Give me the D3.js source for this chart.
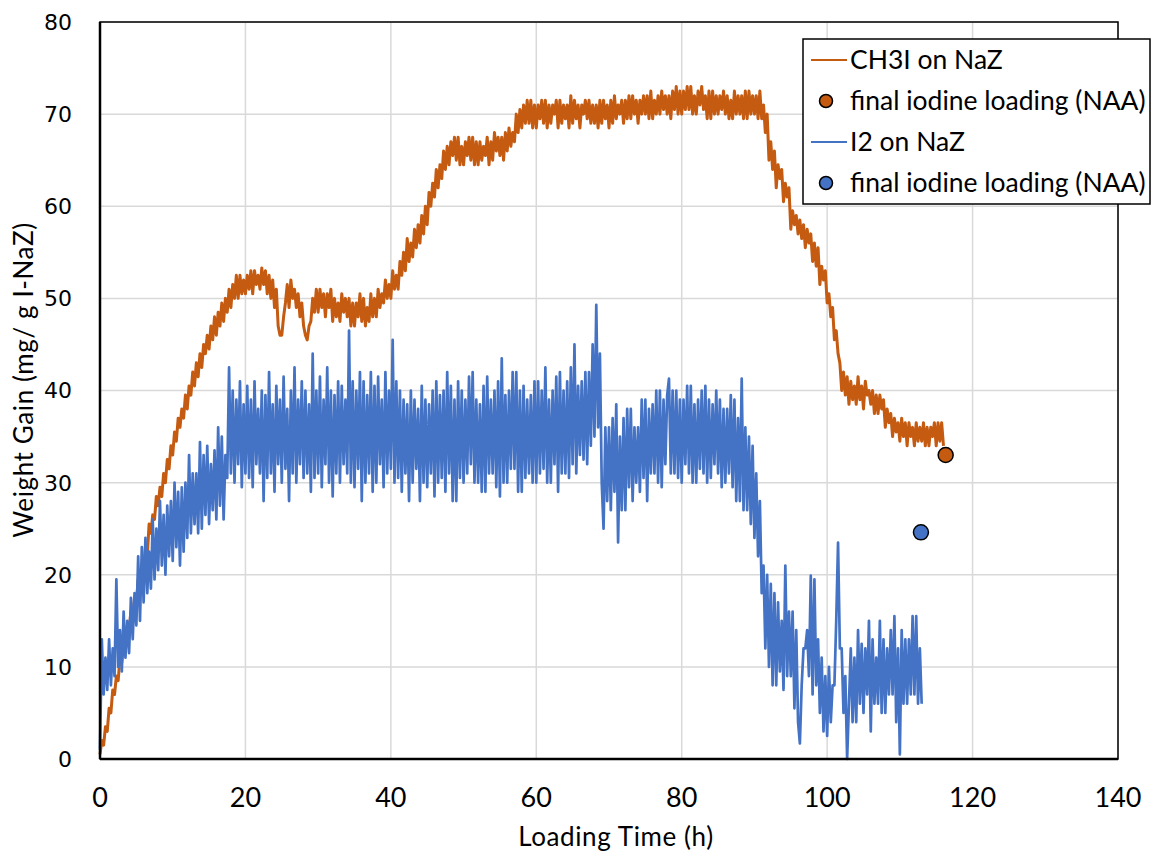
<!DOCTYPE html>
<html><head><meta charset="utf-8">
<script src="https://cdn.jsdelivr.net/npm/d3@7"></script>
<style>body{margin:0;background:#fff}svg{display:block}</style>
</head><body><svg id="c" width="1156" height="853"></svg>
<script>
// ---- data ----
const xTicks = [0, 20, 40, 60, 80, 100, 120, 140];
const yTicks = [0, 10, 20, 30, 40, 50, 60, 70, 80];
const seriesNames = ["CH3I on NaZ", "final iodine loading (NAA)", "I2 on NaZ", "final iodine loading (NAA)"];
const step = 0.25; // hours between samples
// CH3I on NaZ, weight gain sampled every 0.25 h from t = 0 (one row = 1 h)
const ch3iValues = [
0.5,2,1.5,3.5, 3,5.5,5,7.5, 7,9,8.5,11, 10.5,12.5,12,14.5, 14,16,15.5,17.5,
17,19.5,18.5,21, 20.5,23,22,25.5, 24.5,26.5,26,28.5, 27.5,29.5,28.5,31, 30,32.5,31.5,34,
33,35.5,34.5,37, 36,38,37,39.5, 38,40.5,39.5,42, 40.5,43,41.5,44, 42.5,45,44,46,
44.5,47,45.5,48, 46,48.5,47,49.5, 47.5,50,48.5,51, 49,51.5,50,52.5, 50,52.5,50.5,52,
50.5,52.5,51,53, 50.5,53,51.5,52.5, 51,53.3,51.5,53, 50.5,52.5,50,52, 49,51,47,46,
46,48,49.5,51.5, 49,52,50,51, 49,50.5,48,49.5, 47,46,45.5,47, 47.5,50,48.5,51,
48.5,51,49,50.5, 48,50.5,49,51, 47.5,50,48,49.5, 47.5,50.5,48.5,50, 48,50,47,49.5,
47,49.5,48,50.5, 47.5,50,47,49, 47.5,50.5,48,50, 48,51,49,50.5, 49.5,52,50,51.5,
50,53,51,52.5, 51,54,52.5,55, 53,56.5,54,56, 54.5,57.5,55.5,58, 56,59,57,60,
58,61.5,60,62.5, 61,64,62,64.5, 63,66,64,66.5, 64.5,67,65.5,67.5, 65,67.5,64.5,66.5,
64.5,67,65.5,67.5, 65,67.5,64.5,67, 64.5,67,65,66.5, 65.5,67.5,64.5,67, 65,68,66,67.5,
65.5,67.5,65,68, 66,68.5,66.5,68, 67,70,68,70.5, 68.5,71,69,71.5, 69,71.5,68.5,71,
68.5,71,69.5,71.5, 69,71.5,68.5,71, 69,71,70,71.5, 68.5,71.5,69,71, 69.5,71,68.5,72,
69,71.5,69.5,71, 68.5,71,70,71.5, 69.5,71.5,69,71, 69,71,68.5,71.5, 69,71.5,69.5,71,
68.5,71.5,69,72, 69.5,71,70,71.5, 69,71.5,69.5,72, 69.5,72,70,71.5, 69,71.5,70,72,
70,72,69.5,72.5, 69.5,71.5,70,72, 70,72.5,70.5,72, 70,72,69.5,72.5, 70.5,73,70,72.5,
70,72.5,70.5,73, 70.5,73,70,72, 70,72.5,71,73, 70.5,72,69.5,72.5, 69.5,72.5,70,72,
70,72,70.5,72.5, 70,72,69.5,71.5, 69.5,72.5,70,72, 70,72,69.5,72.5, 69.5,72.5,70,72,
70,72,69.5,72.5, 69.5,71,68,70, 65,67,64,66, 62,64.5,63,64, 60.5,62.5,61,62,
57.5,59.5,58,59, 57,58.5,56.5,58, 55.5,57.5,56,57, 54,56,53.5,55.5, 51.5,53.5,52,53,
49.5,50.5,48,49, 45.5,46.5,44,43, 40,42,39.5,41.5, 38.5,41,39,40.5, 38.5,41.5,39,40.5,
38,41,39.5,40, 38.5,40,37.5,39.5, 37.5,39.5,38,39, 36,38,36.5,37.5, 35,37,35.5,36.5,
34.5,37,35,36.5, 34,36.5,35,36, 34,36.5,34.5,36, 34.5,36.5,34,36, 34,36,35,36.5,
34,36.5,34.5,36.5, 34
];
// I2 on NaZ, weight gain sampled every 0.25 h from t = 0 (one row = 1 h)
const i2Values = [
1,13,7,11, 7.5,13,8,12, 9,19.5,10,14, 9.5,16,11,15, 11.5,17.5,13,18,
14.5,22,15,23, 17,24,18,22.5, 18.5,26,19.5,25, 20.5,28,21,26.5, 20,27.5,22,28,
21.5,30,23,29, 21,29.5,22.5,30, 24,33,24.5,31, 25.5,31,24.5,34.4, 25,33,26.5,34,
25.5,32,27,33.5, 26,36,27.5,35, 26,33,30.5,42.5, 31,40,30,39, 32,41,29.5,38.5,
31,40.5,30.5,39, 29.5,41,32,38, 31,40,28,39.5, 30.5,42,31,38.5, 29,40.5,32,39,
30,41.5,31.5,38, 28,40,31,42.5, 30,39,32,41, 30.5,40,31,38.5, 29,44,30.5,40,
31,41.5,29.5,39, 32,42.5,30,40, 28.5,39.5,31,41, 30,40.5,32,39, 31,46.5,30,41,
29.5,40,31.5,42, 28,41,30,39.5, 31,42,29,40.5, 30,41.5,32,39, 29.5,42,31,40,
31.5,45.5,30,41, 30.5,40,29,39, 31,38.5,28,40, 30,39,31.5,38, 28,40.5,30,39,
29.5,38.5,31,40, 28.5,41,30,39.5, 30.5,40,29,42, 31,40.5,28,39, 28,41,30.5,40,
30,39,31,41.5, 32,42,30,39, 30,38.5,29,40.5, 29,41.5,31,39, 31,40,29.5,41,
28.5,43.5,30,39.5, 30,40,31.5,42, 31.5,42,29,40, 29,40.5,30.5,39, 31,39.5,30,41,
30,41,31,40, 31.5,42.5,30,39, 30,40,32,41.5, 29,42,31,40, 31,41,30.5,42.5,
32,45,31,40.5, 33,41,32.5,42, 32,42,34,45, 35,49.3,36,44, 30,25,36,28,
36,27,37,29, 38.5,23.5,35,27, 37,27,38,29.5, 38,28,36,30, 36,29,39,30.5,
39,28,38,31, 38.5,31,40,30, 40,29.5,39,32, 39.5,41.3,31,40, 31,40,30.5,39,
30,39,32,40.5, 31,40.5,30,38.5, 30,39,31.5,40, 31,40.5,30,39, 30.5,38.5,32,40,
31,39,29.5,38, 30,38,31,39.5, 29.5,39,28,37, 28,41.3,27,36, 27,35,25.5,34,
24,31,22,28, 18,21,12,20, 10,19,8,18, 8,17,9.5,15, 7.5,21,9,16,
9,16,5.5,14, 4,1.7,8,12, 12,14,9,19.9, 7,19.5,8,13, 5,11,3,9,
2.5,10,4,8, 8,15,23.5,12, 12,5,9,0, 6,12,4,11, 4,14,6,12.5,
5,12,7,15, 3,13,6,11, 6,15,5,13, 5,12,7,14, 7,15.5,4,12,
0.5,14,6,13, 6,13,7,15.5, 7,15.5,6,12, 6
];
// final iodine loading (NAA) points: [time h, weight gain]
const ch3iNAA = [[116.3, 33]];
const i2NAA = [[112.9, 24.6]];

// ---- chart ----
const svg = d3.select("#c");
const L = 100, R = 1118, T = 22, B = 759;
const x = d3.scaleLinear().domain([0, 140]).range([L, R]);
const y = d3.scaleLinear().domain([0, 80]).range([B, T]);
const orange = "#C55A11", blue = "#4472C4";

// gridlines
svg.append("g").selectAll("line").data(yTicks).join("line")
  .attr("x1", L).attr("x2", R).attr("y1", d => y(d)).attr("y2", d => y(d))
  .attr("stroke", "#d9d9d9").attr("stroke-width", 1.5);
svg.append("g").selectAll("line").data(xTicks).join("line")
  .attr("y1", T).attr("y2", B).attr("x1", d => x(d)).attr("x2", d => x(d))
  .attr("stroke", "#d9d9d9").attr("stroke-width", 1.5);

const line = d3.line().x((d, i) => x(i * step)).y(d => y(d));
svg.append("path").datum(ch3iValues).attr("d", line)
  .attr("fill", "none").attr("stroke", orange).attr("stroke-width", 3).attr("stroke-linejoin", "round");
svg.append("path").datum(i2Values).attr("d", line)
  .attr("fill", "none").attr("stroke", blue).attr("stroke-width", 2.7).attr("stroke-linejoin", "round");

// frame
svg.append("rect").attr("x", L).attr("y", T).attr("width", R - L).attr("height", B - T)
  .attr("fill", "none").attr("stroke", "#000").attr("stroke-width", 1.5);
svg.append("line").attr("x1", L).attr("x2", R).attr("y1", B).attr("y2", B).attr("stroke", "#000").attr("stroke-width", 2.5);
svg.append("line").attr("x1", L).attr("x2", L).attr("y1", T).attr("y2", B).attr("stroke", "#000").attr("stroke-width", 2.5);

// NAA markers
svg.append("g").selectAll("circle").data(ch3iNAA).join("circle")
  .attr("cx", d => x(d[0])).attr("cy", d => y(d[1])).attr("r", 7.5)
  .attr("fill", orange).attr("stroke", "#000").attr("stroke-width", 1.5);
svg.append("g").selectAll("circle").data(i2NAA).join("circle")
  .attr("cx", d => x(d[0])).attr("cy", d => y(d[1])).attr("r", 7.5)
  .attr("fill", blue).attr("stroke", "#000").attr("stroke-width", 1.5);

// tick labels
svg.append("g").selectAll("text").data(xTicks).join("text")
  .attr("x", d => x(d)).attr("y", 807).attr("text-anchor", "middle")
  .attr("font-family", "Lato").attr("font-size", 27).attr("fill", "#000").text(d => d);
svg.append("g").selectAll("text").data(yTicks).join("text")
  .attr("x", 72).attr("y", d => y(d)).attr("dy", "0.36em").attr("text-anchor", "end")
  .attr("font-family", "DejaVu Sans").attr("font-size", 22).attr("fill", "#000").text(d => d);

// axis titles
svg.append("text").attr("x", 616).attr("y", 846).attr("text-anchor", "middle")
  .attr("font-family", "Lato").attr("font-size", 26).attr("letter-spacing", 0.6).text("Loading Time (h)");
svg.append("text").attr("transform", `translate(33,${380}) rotate(-90)`).attr("text-anchor", "middle")
  .attr("font-family", "Lato").attr("font-size", 26).attr("letter-spacing", 0.6).text("Weight Gain (mg/ g I-NaZ)");

// legend
const lg = svg.append("g");
lg.append("rect").attr("x", 803).attr("y", 39).attr("width", 347).attr("height", 165)
  .attr("fill", "#fff").attr("stroke", "#000").attr("stroke-width", 1.5);
const legendItems = [
  {name: seriesNames[0], type: "line", color: orange},
  {name: seriesNames[1], type: "dot", color: orange},
  {name: seriesNames[2], type: "line", color: blue},
  {name: seriesNames[3], type: "dot", color: blue}
];
const rowY = [60, 101, 142, 183];
legendItems.forEach((it, i) => {
  const cy = rowY[i];
  if (it.type === "line") {
    lg.append("line").attr("x1", 811).attr("x2", 847).attr("y1", cy).attr("y2", cy)
      .attr("stroke", it.color).attr("stroke-width", 2.2);
  } else {
    lg.append("circle").attr("cx", 826).attr("cy", cy).attr("r", 6.5)
      .attr("fill", it.color).attr("stroke", "#000").attr("stroke-width", 1.5);
  }
  lg.append("text").attr("x", 850).attr("y", cy).attr("dy", "0.35em")
    .attr("font-family", "Lato").attr("font-size", 26.5).text(it.name);
});
</script></body></html>
